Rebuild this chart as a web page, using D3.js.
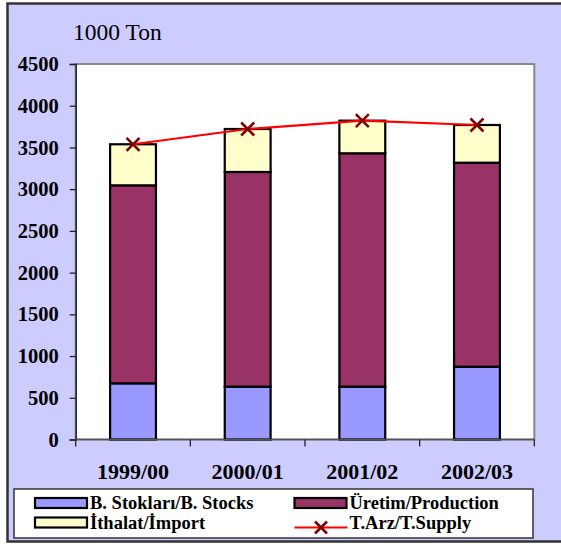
<!DOCTYPE html>
<html>
<head>
<meta charset="utf-8">
<script src="https://cdn.jsdelivr.net/npm/d3@7"></script>
<style>
  body { margin: 0; background: #fff; }
  text { font-family: "Liberation Serif", "Times New Roman", serif; }
</style>
</head>
<body>
<div id="chart-area"></div>
<script>
// data (1000 ton)
var seasons = ["1999/00", "2000/01", "2001/02", "2002/03"];
var stocks = [673, 633, 633, 872];
var production = [2373, 2573, 2797, 2445];
var imports = [492, 515, 391, 452];
var supply = [3538, 3721, 3821, 3769];
var yTicks = [0, 500, 1000, 1500, 2000, 2500, 3000, 3500, 4000, 4500];

var seriesNames = ["B. Stokları/B. Stocks", "Üretim/Production", "İthalat/İmport", "T.Arz/T.Supply"];
var colors = ["#9999FF", "#993366", "#FFFFCC"];

var W = 561, H = 544;
var plot = { left: 75.7, right: 534.3, top: 64, bottom: 439.5 };

var svg = d3.select("#chart-area")
  .append("svg")
  .attr("width", W)
  .attr("height", H);

// outer chart box
svg.append("rect")
  .attr("x", 7.5).attr("y", 3.5)
  .attr("width", 600).attr("height", 538)
  .attr("fill", "#CCCCFF")
  .attr("stroke", "#333")
  .attr("stroke-width", 2.5);

// plot area
svg.append("rect")
  .attr("x", plot.left).attr("y", plot.top)
  .attr("width", plot.right - plot.left)
  .attr("height", plot.bottom - plot.top)
  .attr("fill", "#fff")
  .attr("stroke", "#888")
  .attr("stroke-width", 2);

var x = d3.scaleBand()
  .domain(seasons)
  .range([plot.left, plot.right])
  .paddingInner(0.6)
  .paddingOuter(0.3);

var xCat = d3.scaleBand()
  .domain(seasons)
  .range([plot.left, plot.right]);

var y = d3.scaleLinear()
  .domain([0, 4500])
  .range([plot.bottom, plot.top]);

// stack
var table = seasons.map((s, i) => ({ season: s, stocks: stocks[i], production: production[i], imports: imports[i] }));
var stack = d3.stack().keys(["stocks", "production", "imports"]);
var layers = stack(table);

svg.selectAll("g.layer")
  .data(layers)
  .enter()
  .append("g")
  .attr("class", "layer")
  .attr("fill", (d, i) => colors[i])
  .selectAll("rect")
  .data(d => d)
  .enter()
  .append("rect")
  .attr("x", d => x(d.data.season))
  .attr("y", d => y(d[1]))
  .attr("width", x.bandwidth())
  .attr("height", d => y(d[0]) - y(d[1]))
  .attr("stroke", "#000")
  .attr("stroke-width", 2.2);

// y axis
var yAxis = svg.append("g")
  .attr("transform", `translate(${plot.left},0)`)
  .call(d3.axisLeft(y).tickValues(yTicks).tickSize(6).tickPadding(11).tickFormat(d3.format("d")));
yAxis.select(".domain").attr("stroke", "#222").attr("stroke-width", 1.5);
yAxis.selectAll(".tick line").attr("stroke", "#222").attr("stroke-width", 1.3);
yAxis.selectAll(".tick text")
  .attr("font-size", 20.5)
  .attr("font-weight", "bold")
  .attr("fill", "#000");

// x axis, ticks at category boundaries
var xAxis = svg.append("g")
  .attr("transform", `translate(0,${plot.bottom})`);
xAxis.append("line")
  .attr("x1", plot.left).attr("x2", plot.right)
  .attr("stroke", "#555").attr("stroke-width", 1.5);
xAxis.selectAll("line.tk")
  .data(seasons.concat(["end"]))
  .enter()
  .append("line")
  .attr("class", "tk")
  .attr("x1", (d, i) => i < seasons.length ? xCat(d) : plot.right)
  .attr("x2", (d, i) => i < seasons.length ? xCat(d) : plot.right)
  .attr("y1", 0).attr("y2", 7)
  .attr("stroke", "#222").attr("stroke-width", 1.3);
xAxis.selectAll("text")
  .data(seasons)
  .enter()
  .append("text")
  .attr("x", d => xCat(d) + xCat.bandwidth() / 2)
  .attr("y", 39)
  .attr("text-anchor", "middle")
  .attr("font-size", 22)
  .attr("font-weight", "bold")
  .text(d => d);

// unit label
svg.append("text")
  .attr("x", 73)
  .attr("y", 40)
  .attr("font-size", 23.5)
  .text("1000 Ton");

// supply line
var line = d3.line()
  .x((d, i) => x(seasons[i]) + x.bandwidth() / 2)
  .y(d => y(d));

svg.append("path")
  .datum(supply)
  .attr("fill", "none")
  .attr("stroke", "#FF0000")
  .attr("stroke-width", 2.2)
  .attr("d", line);

function drawCross(g, cx, cy, r) {
  g.append("path")
    .attr("d", `M${cx - r},${cy - r}L${cx + r},${cy + r}M${cx - r},${cy + r}L${cx + r},${cy - r}`)
    .attr("stroke", "#800000")
    .attr("stroke-width", 2.5)
    .attr("fill", "none");
}

var marks = svg.append("g");
supply.forEach((v, i) => {
  drawCross(marks, x(seasons[i]) + x.bandwidth() / 2, y(v), 6.5);
});

// legend
var legend = svg.append("g");
legend.append("rect")
  .attr("x", 14).attr("y", 489)
  .attr("width", 519).attr("height", 49)
  .attr("fill", "#fff")
  .attr("stroke", "#333")
  .attr("stroke-width", 1.5);

var legendItems = [
  { name: seriesNames[0], col: 0, row: 0, kind: "bar", color: colors[0] },
  { name: seriesNames[1], col: 1, row: 0, kind: "bar", color: colors[1] },
  { name: seriesNames[2], col: 0, row: 1, kind: "bar", color: colors[2] },
  { name: seriesNames[3], col: 1, row: 1, kind: "line" }
];
var colX = [35, 294.5];
var rowY = [503, 522.5];

legendItems.forEach(it => {
  var lx = colX[it.col], ly = rowY[it.row];
  if (it.kind === "bar") {
    legend.append("rect")
      .attr("x", lx).attr("y", ly - 5)
      .attr("width", 52).attr("height", 10)
      .attr("fill", it.color)
      .attr("stroke", "#000")
      .attr("stroke-width", 2.2);
  } else {
    legend.append("line")
      .attr("x1", lx).attr("x2", lx + 53)
      .attr("y1", ly + 5).attr("y2", ly + 5)
      .attr("stroke", "#FF0000").attr("stroke-width", 2.2);
    drawCross(legend, lx + 26.5, ly + 5, 6);
  }
  legend.append("text")
    .attr("x", lx + 55)
    .attr("y", ly + 6)
    .attr("font-size", 18.5)
    .attr("font-weight", "bold")
    .text(it.name);
});
</script>
</body>
</html>
